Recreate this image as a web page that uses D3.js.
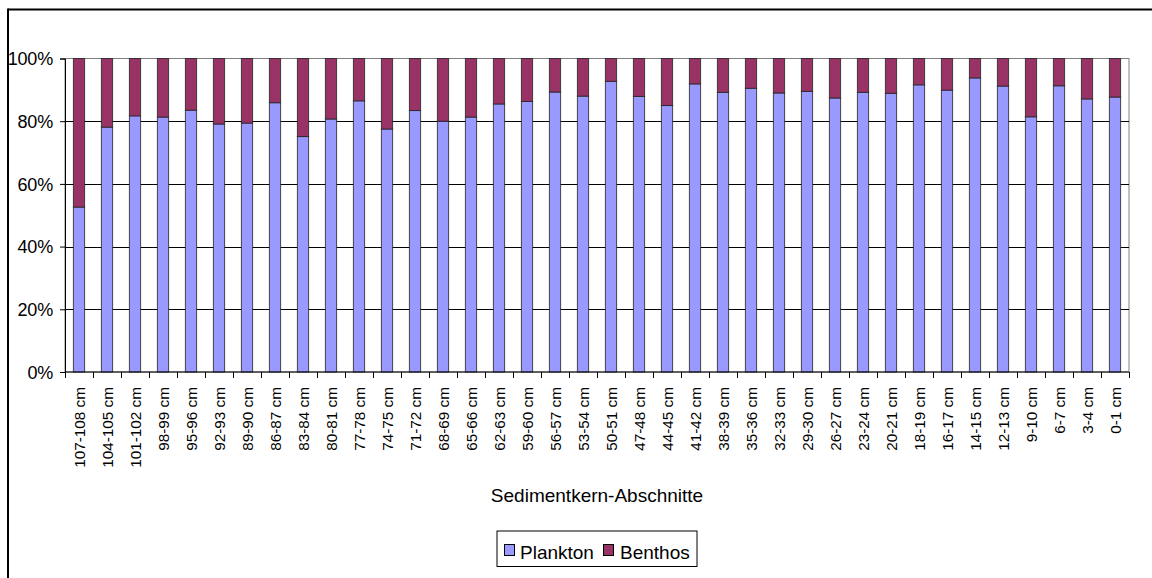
<!DOCTYPE html>
<html>
<head>
<meta charset="utf-8">
<script src="https://cdn.jsdelivr.net/npm/d3@7"></script>
<style>
  html, body { margin: 0; padding: 0; background: #fff; }
  svg { display: block; font-family: "Liberation Sans", Arial, sans-serif; }
</style>
</head>
<body>
<svg id="chart" width="1152" height="578"></svg>
<script>
// Core sections, deepest first
const categories = [
  "107-108 cm", "104-105 cm", "101-102 cm", "98-99 cm", "95-96 cm", "92-93 cm",
  "89-90 cm", "86-87 cm", "83-84 cm", "80-81 cm", "77-78 cm", "74-75 cm",
  "71-72 cm", "68-69 cm", "65-66 cm", "62-63 cm", "59-60 cm", "56-57 cm",
  "53-54 cm", "50-51 cm", "47-48 cm", "44-45 cm", "41-42 cm", "38-39 cm",
  "35-36 cm", "32-33 cm", "29-30 cm", "26-27 cm", "23-24 cm", "20-21 cm",
  "18-19 cm", "16-17 cm", "14-15 cm", "12-13 cm", "9-10 cm", "6-7 cm",
  "3-4 cm", "0-1 cm"
];

// Share (%) of planktonic forms per section
const plankton = [
  52.6, 78.1, 81.7, 81.3, 83.5, 79.1, 79.4, 85.9, 75.1, 80.7, 86.5, 77.5,
  83.4, 80.0, 81.3, 85.5, 86.3, 89.3, 88.0, 92.7, 87.9, 85.0, 91.9, 89.2,
  90.5, 89.0, 89.5, 87.4, 89.2, 88.9, 91.6, 89.9, 93.8, 91.2, 81.4, 91.3,
  87.1, 87.7
];

// Share (%) of benthic forms per section
const benthos = [
  47.4, 21.9, 18.3, 18.7, 16.5, 20.9, 20.6, 14.1, 24.9, 19.3, 13.5, 22.5,
  16.6, 20.0, 18.7, 14.5, 13.7, 10.7, 12.0, 7.3, 12.1, 15.0, 8.1, 10.8,
  9.5, 11.0, 10.5, 12.6, 10.8, 11.1, 8.4, 10.1, 6.2, 8.8, 18.6, 8.7,
  12.9, 12.3
];

const seriesNames = ["Plankton", "Benthos"];
const seriesColors = ["#9999FF", "#993366"];
const yTicks = [0, 0.2, 0.4, 0.6, 0.8, 1.0];

const rows = categories.map((c, i) => ({ cat: c, Plankton: plankton[i], Benthos: benthos[i] }));

const svg = d3.select("#chart");

// outer chart frame (top and left edges)
svg.append("line").attr("x1", 8).attr("x2", 1152).attr("y1", 9.5).attr("y2", 9.5)
  .attr("stroke", "#000").attr("stroke-width", 2);
svg.append("line").attr("x1", 8).attr("x2", 8).attr("y1", 8.5).attr("y2", 578)
  .attr("stroke", "#000").attr("stroke-width", 2);

const plot = { left: 65, right: 1129, top: 58.5, bottom: 372 };

const x = d3.scaleBand().domain(categories).range([plot.left, plot.right]).paddingInner(0.6).paddingOuter(0.3);
const xEdge = d3.scaleBand().domain(categories).range([plot.left, plot.right]).padding(0);
const y = d3.scaleLinear().domain([0, 1]).range([plot.bottom, plot.top]);

// plot area border
svg.append("rect")
  .attr("x", plot.left).attr("y", plot.top)
  .attr("width", plot.right - plot.left).attr("height", plot.bottom - plot.top)
  .attr("fill", "none").attr("stroke", "#808080").attr("stroke-width", 1);

// horizontal gridlines
svg.append("g").selectAll("line").data(yTicks.filter(t => t > 0 && t < 1)).join("line")
  .attr("x1", plot.left).attr("x2", plot.right)
  .attr("y1", d => Math.round(y(d)) + 0.5).attr("y2", d => Math.round(y(d)) + 0.5)
  .attr("stroke", "#000").attr("stroke-width", 1);

// stacked bars, normalised to 100 %
const stack = d3.stack().keys(seriesNames).offset(d3.stackOffsetExpand);
const layers = stack(rows);

svg.append("g").selectAll("g").data(layers).join("g")
  .attr("fill", (d, i) => seriesColors[i])
  .selectAll("rect").data(d => d).join("rect")
  .attr("x", d => x(d.data.cat))
  .attr("width", x.bandwidth())
  .attr("y", d => y(d[1]))
  .attr("height", d => y(d[0]) - y(d[1]))
  .attr("stroke", "#222").attr("stroke-opacity", 0.8).attr("stroke-width", 1);

// y axis
const yAxis = d3.axisLeft(y).tickValues(yTicks).tickSize(5).tickFormat(d3.format(".0%"));
const gy = svg.append("g").attr("transform", `translate(${plot.left},0)`).call(yAxis);
gy.select(".domain").attr("stroke", "#000");
gy.selectAll(".tick line").attr("stroke", "#000");
gy.selectAll(".tick text").attr("x", -12).attr("dy", "0.35em").attr("font-size", 18).attr("fill", "#000")
  .attr("font-family", "'Liberation Sans', Arial, sans-serif").attr("letter-spacing", -0.2);

// x axis: ticks on category boundaries
const gx = svg.append("g").attr("transform", `translate(0,${plot.bottom})`);
gx.append("line").attr("x1", plot.left).attr("x2", plot.right).attr("y1", 0).attr("y2", 0).attr("stroke", "#000");
const edges = categories.map(c => xEdge(c)).concat([plot.right]);
gx.selectAll("line.tk").data(edges).join("line").attr("class", "tk")
  .attr("x1", d => Math.round(d) + 0.5).attr("x2", d => Math.round(d) + 0.5)
  .attr("y1", 0).attr("y2", 6).attr("stroke", "#000");
gx.selectAll("text").data(categories).join("text")
  .attr("transform", d => `translate(${xEdge(d) + xEdge.bandwidth() / 2 + 6},15) rotate(-90)`)
  .attr("text-anchor", "end")
  .attr("font-size", 15.3).attr("fill", "#000")
  .text(d => d);

// axis title
svg.append("text").attr("x", 597).attr("y", 502).attr("text-anchor", "middle")
  .attr("font-size", 19).attr("fill", "#000")
  .text("Sedimentkern-Abschnitte");

// legend
const lg = svg.append("g");
lg.append("rect").attr("x", 497).attr("y", 531).attr("width", 200).attr("height", 35.5)
  .attr("fill", "#fff").attr("stroke", "#000").attr("stroke-width", 1);
const legendItems = [
  { name: seriesNames[0], color: seriesColors[0], sx: 504, tx: 520 },
  { name: seriesNames[1], color: seriesColors[1], sx: 603, tx: 620 }
];
legendItems.forEach(it => {
  lg.append("rect").attr("x", it.sx + 0.5).attr("y", 544.5).attr("width", 10).attr("height", 11)
    .attr("fill", it.color).attr("stroke", "#000").attr("stroke-width", 1);
  lg.append("text").attr("x", it.tx).attr("y", 559).attr("font-size", 19)
    .attr("fill", "#000").text(it.name);
});
</script>
</body>
</html>
